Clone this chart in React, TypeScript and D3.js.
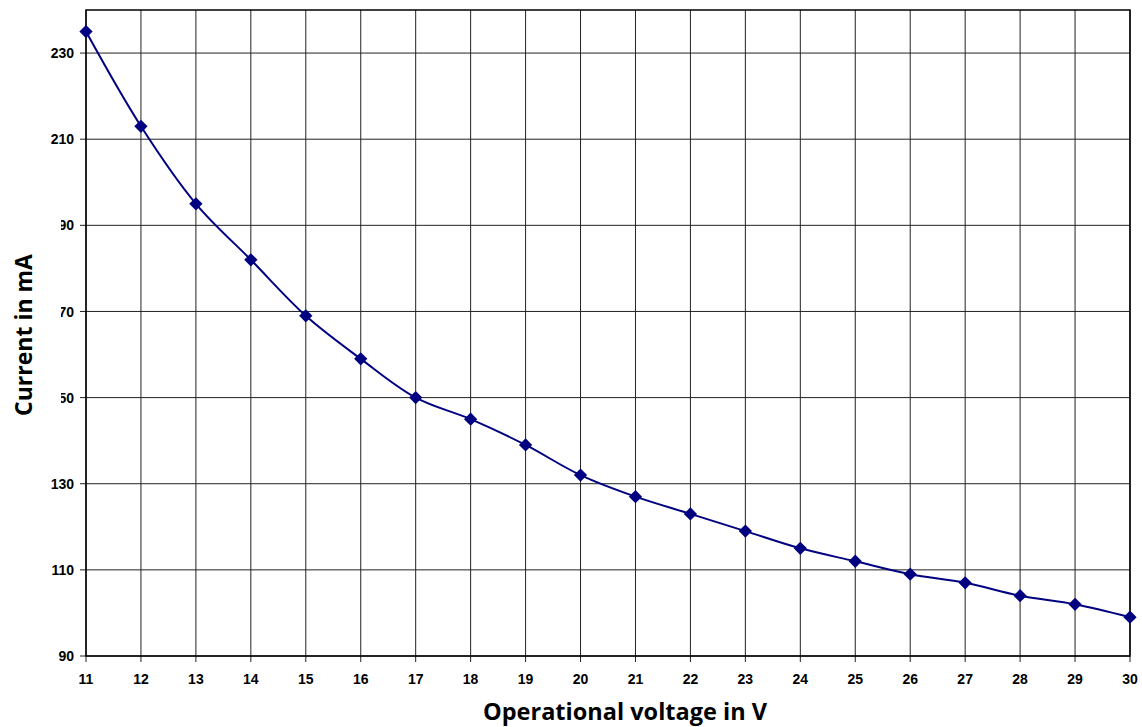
import React from "react";
import * as d3 from "d3";

// operational voltage (V) and measured current (mA)
const voltages = [11, 12, 13, 14, 15, 16, 17, 18, 19, 20, 21, 22, 23, 24, 25, 26, 27, 28, 29, 30];
const currents = [235, 213, 195, 182, 169, 159, 150, 145, 139, 132, 127, 123, 119, 115, 112, 109, 107, 104, 102, 99];
const yTicks = [90, 110, 130, 150, 170, 190, 210, 230];

const width = 1142;
const height = 727;
const margin = { top: 10, right: 12, bottom: 71, left: 86 };

function App() {
  const innerWidth = width - margin.left - margin.right;
  const innerHeight = height - margin.top - margin.bottom;

  const x = d3.scaleLinear().domain([11, 30]).range([0, innerWidth]);
  const y = d3.scaleLinear().domain([90, 240]).range([innerHeight, 0]);

  const points: [number, number][] = voltages.map((v, i) => [v, currents[i]]);
  const line = d3
    .line<[number, number]>()
    .x(d => x(d[0]))
    .y(d => y(d[1]))
    .curve(d3.curveCatmullRom.alpha(0.5));

  // square turned 45deg = excel style diamond
  const diamond = d3.symbol(d3.symbolSquare, 88)() ?? "";
  const tickFont = "'Liberation Sans', Arial, sans-serif";
  const titleFont = "'Open Sans', 'Noto Sans', sans-serif";

  return (
    <svg
      width={width}
      height={height}
      style={{ position: "absolute", left: 0, top: 0, background: "#fff" }}
    >
      <g transform={`translate(${margin.left},${margin.top})`}>
        {/* horizontal grid */}
        {yTicks.map(t => (
          <g key={"y" + t}>
            <line x1={-6} x2={innerWidth} y1={y(t)} y2={y(t)} stroke="#222" strokeWidth={1} />
            <text
              x={-12}
              y={y(t)}
              dy="0.36em"
              textAnchor="end"
              fontFamily={tickFont}
              fontWeight="bold"
              fontSize={14}
              fill="#000"
            >
              {t}
            </text>
          </g>
        ))}
        {/* vertical grid */}
        {voltages.map(v => (
          <g key={"x" + v}>
            <line x1={x(v)} x2={x(v)} y1={0} y2={innerHeight + 6} stroke="#222" strokeWidth={1} />
            <text
              x={x(v)}
              y={innerHeight + 28}
              textAnchor="middle"
              fontFamily={tickFont}
              fontWeight="bold"
              fontSize={14}
              fill="#000"
            >
              {v}
            </text>
          </g>
        ))}
        <rect x={0} y={0} width={innerWidth} height={innerHeight} fill="none" stroke="#000" strokeWidth={1.5} />

        <path d={line(points) ?? ""} fill="none" stroke="#000080" strokeWidth={2} />
        {points.map(d => (
          <path
            key={"p" + d[0]}
            d={diamond}
            transform={`translate(${x(d[0])},${y(d[1])}) rotate(45)`}
            fill="#000080"
          />
        ))}
      </g>

      {/* y axis title box (covers the leading digit of some labels, as in the source) */}
      <rect x={0} y={150} width={61} height={320} fill="#fff" />
      <text
        transform={`translate(32,335) rotate(-90)`}
        textAnchor="middle"
        fontFamily={titleFont}
        fontWeight="bold"
        fontSize={23}
        fill="#000"
      >
        Current in mA
      </text>
      <text
        x={625}
        y={720}
        textAnchor="middle"
        fontFamily={titleFont}
        fontWeight="bold"
        fontSize={23.5}
        fill="#000"
      >
        Operational voltage in V
      </text>
    </svg>
  );
}

export default App;
